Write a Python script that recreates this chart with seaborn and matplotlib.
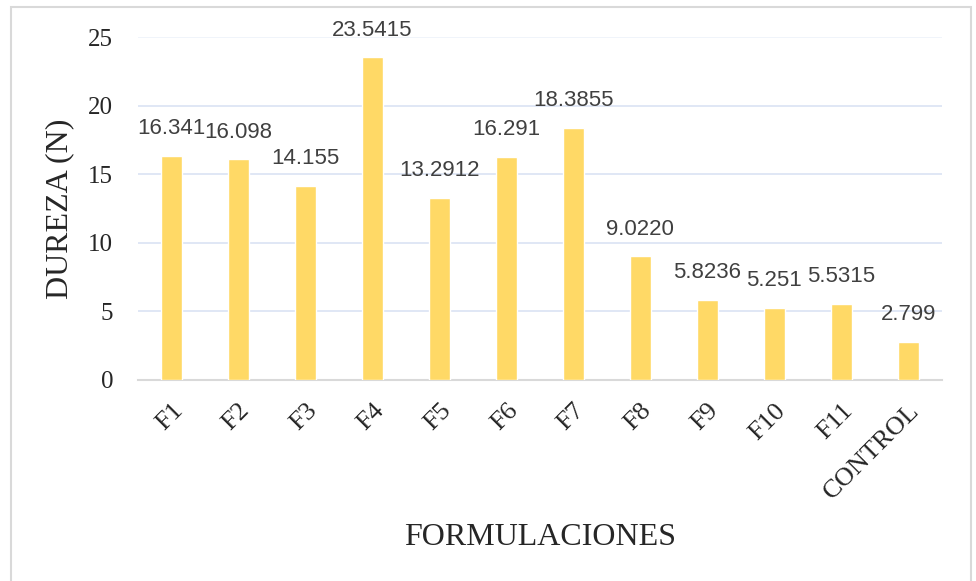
import matplotlib
matplotlib.use("Agg")
import matplotlib.pyplot as plt
from matplotlib.patches import Rectangle
import pandas as pd
import seaborn as sns

# datos
formulaciones = ['F1', 'F2', 'F3', 'F4', 'F5', 'F6', 'F7', 'F8', 'F9', 'F10', 'F11', 'CONTROL']
dureza = [16.341, 16.098, 14.155, 23.5415, 13.2912, 16.291, 18.3855, 9.0220, 5.8236, 5.251, 5.5315, 2.799]
etiquetas = ['16.341', '16.098', '14.155', '23.5415', '13.2912', '16.291', '18.3855', '9.0220',
             '5.8236', '5.251', '5.5315', '2.799']
yticks = [0, 5, 10, 15, 20, 25]

df = pd.DataFrame({'formulacion': formulaciones, 'dureza': dureza})

sns.set_theme(style="white")
plt.rcParams['font.family'] = ['Liberation Serif', 'DejaVu Serif']

fig = plt.figure(figsize=(9.76, 5.81), dpi=100)
ax = fig.add_axes([0.1414, 0.346, 0.8236, 0.590])

sns.barplot(data=df, x='formulacion', y='dureza', color='#FFD966', saturation=1,
            width=0.31, ax=ax, zorder=3)

for i, (v, t) in enumerate(zip(dureza, etiquetas)):
    ax.annotate(t, (i, v), xytext=(0, 12), textcoords='offset points', ha='center', va='bottom',
                fontsize=16, color='#404040', family=['Liberation Sans', 'DejaVu Sans'])

ax.set_ylim(0, 25)
ax.set_xlim(-0.5, len(formulaciones) - 0.5)
ax.set_yticks(yticks)
ax.set_yticklabels([str(t) for t in yticks], fontsize=18)
ax.tick_params(axis='y', length=0, pad=18)
ax.tick_params(axis='x', length=0, pad=14)
plt.setp(ax.get_xticklabels(), rotation=45, ha='right', rotation_mode='anchor', fontsize=19)

for y in yticks[1:]:
    ax.axhline(y, color='#DAE3F3' if y < 25 else '#EEF2F9', lw=1.2, zorder=1)

for s in ['top', 'right', 'left']:
    ax.spines[s].set_visible(False)
ax.spines['bottom'].set_color('#D9D9D9')
ax.spines['bottom'].set_linewidth(1.5)

ax.set_ylabel('DUREZA (N)', fontsize=23, labelpad=10)
ax.set_xlabel('FORMULACIONES', fontsize=23, labelpad=14)

fig.patches.append(Rectangle((11 / 976, -0.1), 960 / 976, 1.1 - 7 / 581, transform=fig.transFigure,
                             fill=False, edgecolor='#D9D9D9', lw=1.5))

fig.savefig('out.png', dpi=100)
